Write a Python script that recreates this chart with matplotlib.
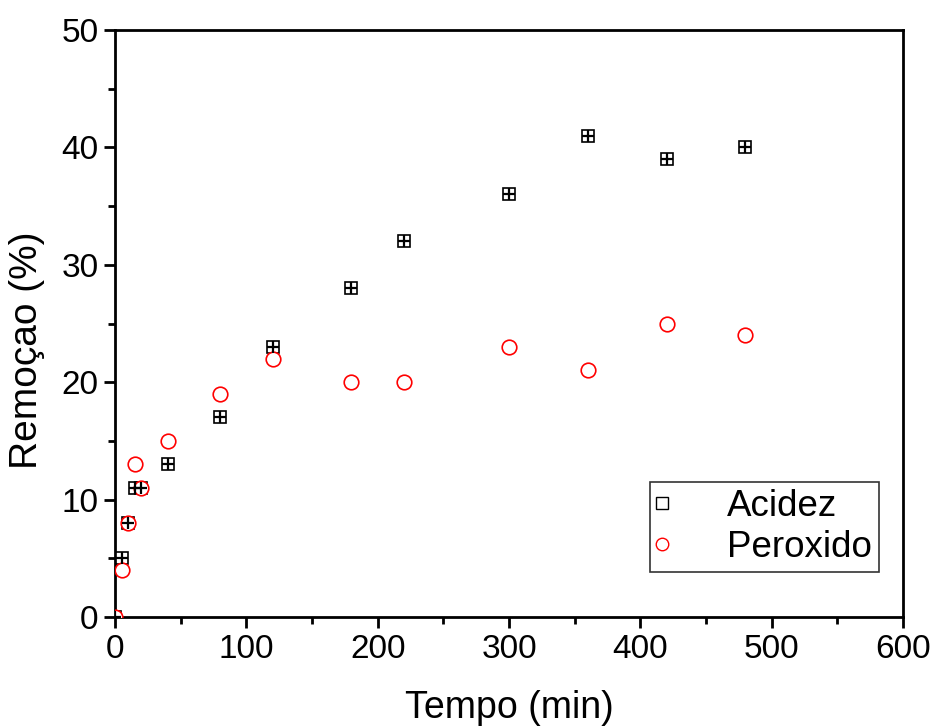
import matplotlib.pyplot as plt
from matplotlib.lines import Line2D

plt.rcParams['font.family'] = ['Liberation Sans', 'DejaVu Sans']

# data
tempo = [0, 5, 10, 15, 20, 40, 80, 120, 180, 220, 300, 360, 420, 480]
acidez = [0, 5, 8, 11, 11, 13, 17, 23, 28, 32, 36, 41, 39, 40]
peroxido = [0, 4, 8, 13, 11, 15, 19, 22, 20, 20, 23, 21, 25, 24]

fig = plt.figure(figsize=(9.32, 7.27), dpi=100)
ax = fig.add_axes([0.1234, 0.1513, 0.8456, 0.8074])

# squares with a cross inside, circles on top, cross drawn last
ax.plot(tempo, acidez, ls='none', marker='s', ms=9, mfc='white', mec='black', mew=1.2, zorder=3)
ax.plot(tempo, peroxido, ls='none', marker='o', ms=10.5, mfc='white', mec='red', mew=1.2, zorder=4)
ax.plot(tempo, acidez, ls='none', marker='+', ms=9, mec='black', mew=1.6, zorder=5)

ax.set_xlim(0, 600)
ax.set_ylim(0, 50)
ax.set_xticks(range(0, 601, 100))
ax.set_xticks(range(50, 600, 100), minor=True)
ax.set_yticks(range(0, 51, 10))
ax.set_yticks(range(5, 50, 10), minor=True)
ax.tick_params(which='major', direction='out', length=8, width=2, labelsize=24, pad=4)
ax.tick_params(which='minor', direction='out', length=5, width=2)
for s in ax.spines.values():
    s.set_linewidth(2)

ax.set_xlabel("Tempo (min)", fontsize=27, labelpad=18)
ax.set_ylabel("Remoçao (%)", fontsize=28)
ax.yaxis.set_label_coords(-0.089, 0.455)

handles = [
    Line2D([], [], ls='none', marker='s', ms=8, mfc='white', mec='black', mew=1),
    Line2D([], [], ls='none', marker='o', ms=9, mfc='white', mec='red', mew=1),
]
leg = ax.legend(handles, ["Acidez", "Peroxido"], loc='lower right', bbox_to_anchor=(0.9695, 0.0767),
                fontsize=26.5, frameon=True, fancybox=False, edgecolor='black',
                handlelength=0.3, handletextpad=1.6, borderpad=0.2, labelspacing=0.15,
                borderaxespad=0)
leg.get_frame().set_linewidth(1.2)

plt.savefig("out.png", dpi=100)
